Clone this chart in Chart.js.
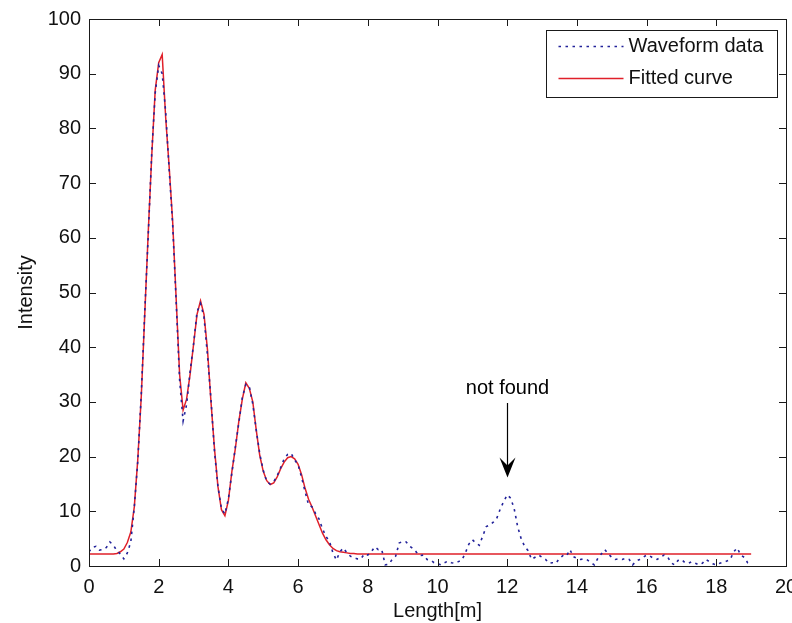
<!DOCTYPE html>
<html>
<head>
<meta charset="utf-8">
<script src="https://cdn.jsdelivr.net/npm/chart.js@4.4.1/dist/chart.umd.min.js"></script>
<style>
  html, body { margin: 0; padding: 0; background: #fff; overflow: hidden; }
  #wrap { width: 792px; height: 623px; overflow: hidden; }
</style>
</head>
<body>
<div id="wrap"><canvas id="myChart" width="800" height="623"></canvas></div>
<script>
// sample positions of the measured waveform (m)
var lengths = [
  0.0, 0.1, 0.2, 0.3, 0.4, 0.5, 0.6, 0.7, 0.8, 0.9,
  1.0, 1.1, 1.2, 1.3, 1.4, 1.5, 1.6, 1.7, 1.8, 1.9,
  2.0, 2.1, 2.2, 2.3, 2.4, 2.5, 2.6, 2.7, 2.8, 2.9,
  3.0, 3.1, 3.2, 3.3, 3.4, 3.5, 3.6, 3.7, 3.8, 3.9,
  4.0, 4.1, 4.2, 4.3, 4.4, 4.5, 4.6, 4.7, 4.8, 4.9,
  5.0, 5.1, 5.2, 5.3, 5.4, 5.5, 5.6, 5.7, 5.8, 5.9,
  6.0, 6.1, 6.2, 6.3, 6.4, 6.5, 6.6, 6.7, 6.8, 6.9,
  7.0, 7.1, 7.2, 7.3, 7.4, 7.5, 7.6, 7.7, 7.8, 7.9,
  8.0, 8.1, 8.2, 8.3, 8.4, 8.5, 8.6, 8.7, 8.8, 8.9,
  9.0, 9.1, 9.2, 9.3, 9.4, 9.5, 9.6, 9.7, 9.8, 9.9,
  10.0, 10.1, 10.2, 10.3, 10.4, 10.5, 10.6, 10.7, 10.8, 10.9,
  11.0, 11.1, 11.2, 11.3, 11.4, 11.5, 11.6, 11.7, 11.8, 11.9,
  12.0, 12.1, 12.2, 12.3, 12.4, 12.5, 12.6, 12.7, 12.8, 12.9,
  13.0, 13.1, 13.2, 13.3, 13.4, 13.5, 13.6, 13.7, 13.8, 13.9,
  14.0, 14.1, 14.2, 14.3, 14.4, 14.5, 14.6, 14.7, 14.8, 14.9,
  15.0, 15.1, 15.2, 15.3, 15.4, 15.5, 15.6, 15.7, 15.8, 15.9,
  16.0, 16.1, 16.2, 16.3, 16.4, 16.5, 16.6, 16.7, 16.8, 16.9,
  17.0, 17.1, 17.2, 17.3, 17.4, 17.5, 17.6, 17.7, 17.8, 17.9,
  18.0, 18.1, 18.2, 18.3, 18.4, 18.5, 18.6, 18.7, 18.8, 18.9,
  19.0
];

// waveform intensity, same order as lengths
var waveform = [
  2.6, 3.4, 3.6, 2.9, 3.0, 3.4, 4.4, 3.8, 2.8, 2.2,
  1.3, 2.4, 4.4, 10.8, 19.2, 31.5, 46.5, 60.5, 75.5, 86.5,
  91.5, 90, 83, 72.5, 62.5, 48.5, 34, 26.5, 29.5, 35.5,
  40.5, 46.5, 48, 45.5, 38.5, 30.5, 21, 14.5, 10.5, 9.5,
  12.3, 17, 21.8, 26.2, 30.8, 33.2, 32.8, 29.6, 24.8, 20.5,
  17.5, 15.4, 15, 15.4, 16.5, 18, 19.6, 20.4, 20.6, 19.4,
  18.5, 16.2, 13.6, 11.2, 10.8, 9.6, 8.6, 6.8, 5.4, 4.5,
  2.4, 1.1, 2.6, 3.3, 2.4, 1.8, 1.5, 1.3, 1.3, 2.2,
  2.0, 2.6, 3.5, 3.0, 3.0, 0.2, 0.3, 1.2, 1.8, 4.2,
  4.5, 4.4, 3.6, 3.2, 2.5, 1.9, 2.0, 1.2, 1.1, 0.6,
  0.4, 0.2, 0.6, 0.9, 0.6, 0.5, 0.8, 1.1, 2.4, 4.0,
  4.8, 4.2, 3.8, 5.5, 7.2, 7.5, 8.0, 8.7, 10.4, 11.8,
  13.0, 12.4, 10.5, 7.2, 5.0, 3.6, 2.8, 1.2, 1.6, 2.0,
  1.6, 1.2, 0.5, 0.6, 0.5, 1.4, 1.9, 1.8, 3.0, 1.7,
  1.4, 1.2, 1.3, 1.1, 0.6, 0.2, 1.4, 2.2, 3.0, 2.2,
  1.6, 1.2, 1.3, 1.2, 1.4, 1.2, 0.2, 0.9, 1.2, 1.6,
  2.0, 1.8, 1.4, 1.2, 1.6, 2.0, 1.7, 0.6, 0.2, 1.0,
  1.2, 0.6, 0.5, 0.8, 0.5, 0.2, 0.5, 1.2, 0.8, 0.4,
  0.2, 0.5, 0.7, 0.9, 1.2, 2.6, 3.3, 2.0, 1.6, 0.6,
  0.4
];

// fitted curve vertices (m) and values
var fitLengths = [
  0.0, 0.7, 0.8, 0.9, 1.0, 1.1, 1.2, 1.3, 1.4, 1.5, 1.6, 1.7, 1.8, 1.9,
  2.0, 2.1, 2.2, 2.3, 2.4, 2.5, 2.6, 2.7, 2.8, 2.9,
  3.0, 3.1, 3.2, 3.3, 3.4, 3.5, 3.6, 3.7, 3.8, 3.9,
  4.0, 4.1, 4.2, 4.3, 4.4, 4.5, 4.6, 4.7, 4.8, 4.9,
  5.0, 5.1, 5.2, 5.3, 5.4, 5.5, 5.6, 5.7, 5.8, 5.9,
  6.0, 6.1, 6.2, 6.3, 6.4, 6.5, 6.6, 6.7, 6.8, 6.9,
  7.0, 7.1, 7.2, 7.3, 7.4, 7.5, 7.6, 7.7, 19.0
];
var fitted = [
  2.2, 2.2, 2.3, 2.6, 3.1, 4.3, 6.2, 10.8, 19.5, 31, 46, 61, 75, 87,
  92, 93.5, 82, 73, 63, 49, 35, 28.5, 30.5, 35,
  40.5, 46, 48.5, 46, 39.5, 30, 21.5, 14.5, 10.3, 9.2,
  12, 17.3, 21.5, 26.5, 30.5, 33.5, 32.5, 30, 24.8, 20.2,
  17.3, 15.6, 14.9, 15.2, 16.3, 17.8, 19, 19.8, 20, 19.6,
  18.6, 16.7, 14.2, 12.2, 10.8, 9.2, 7.6, 6.0, 4.8, 3.9,
  3.2, 2.8, 2.6, 2.5, 2.4, 2.3, 2.3, 2.2, 2.2
];

var xTicks = [0, 2, 4, 6, 8, 10, 12, 14, 16, 18, 20];
var yTicks = [0, 10, 20, 30, 40, 50, 60, 70, 80, 90, 100];

// annotation: label and arrow (x, y from, y to)
var noteText = "not found";
var noteX = 12;
var noteTextY = 32.4;
var noteArrow = [29.8, 16.2];

var FONT = "'Liberation Sans', Arial, sans-serif";
var blue = "#22229a";
var red = "#e0202a";

function toPoints(xs, ys) {
  return ys.map(function (v, i) {
    return { x: xs[i], y: v };
  });
}

// box, inward ticks, arrow note and legend in the MATLAB look
var matlabLook = {
  id: "matlabLook",
  afterDraw: function (chart) {
    var ctx = chart.ctx;
    var a = chart.chartArea;
    var xs = chart.scales.x;
    var ys = chart.scales.y;
    ctx.save();

    // frame and ticks
    ctx.strokeStyle = "#1a1a1a";
    ctx.lineWidth = 1;
    ctx.strokeRect(a.left + 0.5, a.top + 0.5, a.right - a.left, a.bottom - a.top);
    ctx.beginPath();
    xTicks.forEach(function (v) {
      var px = Math.round(xs.getPixelForValue(v)) + 0.5;
      ctx.moveTo(px, a.bottom);
      ctx.lineTo(px, a.bottom - 7);
      ctx.moveTo(px, a.top);
      ctx.lineTo(px, a.top + 7);
    });
    yTicks.forEach(function (v) {
      var py = Math.round(ys.getPixelForValue(v)) + 0.5;
      ctx.moveTo(a.left, py);
      ctx.lineTo(a.left + 7, py);
      ctx.moveTo(a.right, py);
      ctx.lineTo(a.right - 7, py);
    });
    ctx.stroke();

    // arrow note
    var ax = Math.round(xs.getPixelForValue(noteX)) + 0.5;
    var y0 = ys.getPixelForValue(noteArrow[0]);
    var y1 = ys.getPixelForValue(noteArrow[1]);
    ctx.strokeStyle = "#000";
    ctx.lineWidth = 1.2;
    ctx.beginPath();
    ctx.moveTo(ax, y0);
    ctx.lineTo(ax, y1 - 8);
    ctx.stroke();
    ctx.fillStyle = "#000";
    ctx.beginPath();
    ctx.moveTo(ax, y1);
    ctx.lineTo(ax - 8, y1 - 20);
    ctx.lineTo(ax, y1 - 12);
    ctx.lineTo(ax + 8, y1 - 20);
    ctx.closePath();
    ctx.fill();
    ctx.font = "20px " + FONT;
    ctx.textAlign = "center";
    ctx.textBaseline = "middle";
    ctx.fillText(noteText, ax, ys.getPixelForValue(noteTextY));

    // legend box
    var lw = 231, lh = 67;
    var lx = Math.round(a.right - 9 - lw) + 0.5;
    var ly = Math.round(a.top + 11) + 0.5;
    ctx.fillStyle = "#fff";
    ctx.fillRect(lx, ly, lw, lh);
    ctx.strokeStyle = "#1a1a1a";
    ctx.lineWidth = 1;
    ctx.strokeRect(lx, ly, lw, lh);
    chart.data.datasets.forEach(function (ds, i) {
      var rowY = ly + 16 + i * 32;
      ctx.strokeStyle = ds.borderColor;
      ctx.lineWidth = ds.borderWidth;
      ctx.setLineDash(ds.borderDash || []);
      ctx.beginPath();
      ctx.moveTo(lx + 12, rowY);
      ctx.lineTo(lx + 77, rowY);
      ctx.stroke();
      ctx.setLineDash([]);
      ctx.fillStyle = "#111";
      ctx.textAlign = "left";
      ctx.textBaseline = "middle";
      ctx.fillText(ds.label, lx + 82, rowY);
    });
    ctx.restore();
  },
};

new Chart("myChart", {
  type: "line",
  data: {
    datasets: [
      {
        label: "Waveform data",
        data: toPoints(lengths, waveform),
        borderColor: blue,
        borderWidth: 1.6,
        borderDash: [2.5, 4.5],
        pointRadius: 0,
        fill: false,
        tension: 0,
      },
      {
        label: "Fitted curve",
        data: toPoints(fitLengths, fitted),
        borderColor: red,
        borderWidth: 1.5,
        pointRadius: 0,
        fill: false,
        tension: 0,
      },
    ],
  },
  options: {
    responsive: false,
    animation: false,
    devicePixelRatio: 1,
    layout: { padding: { top: 19, right: 14, bottom: 0, left: 0 } },
    plugins: {
      legend: { display: false },
      tooltip: { enabled: false },
    },
    scales: {
      x: {
        type: "linear",
        min: 0,
        max: 20,
        afterFit: function (scale) {
          scale.height = 57;
          scale.paddingLeft = 0;
          scale.paddingRight = 0;
        },
        afterBuildTicks: function (scale) {
          scale.ticks = xTicks.map(function (v) { return { value: v }; });
        },
        grid: { display: false, drawTicks: false },
        border: { display: false },
        ticks: {
          color: "#111",
          padding: 9,
          maxRotation: 0,
          font: { family: FONT, size: 20 },
        },
        title: {
          display: true,
          text: "Length[m]",
          color: "#111",
          padding: { top: 0, bottom: 0 },
          font: { family: FONT, size: 20 },
        },
      },
      y: {
        min: 0,
        max: 100,
        afterFit: function (scale) {
          scale.width = 89;
          scale.paddingTop = 0;
          scale.paddingBottom = 0;
        },
        afterBuildTicks: function (scale) {
          scale.ticks = yTicks.map(function (v) { return { value: v }; });
        },
        grid: { display: false, drawTicks: false },
        border: { display: false },
        ticks: {
          color: "#111",
          padding: 8,
          font: { family: FONT, size: 20 },
        },
        title: {
          display: true,
          text: "Intensity",
          color: "#111",
          padding: { top: 14, bottom: 0 },
          font: { family: FONT, size: 20 },
        },
      },
    },
  },
  plugins: [matlabLook],
});
</script>
</body>
</html>
